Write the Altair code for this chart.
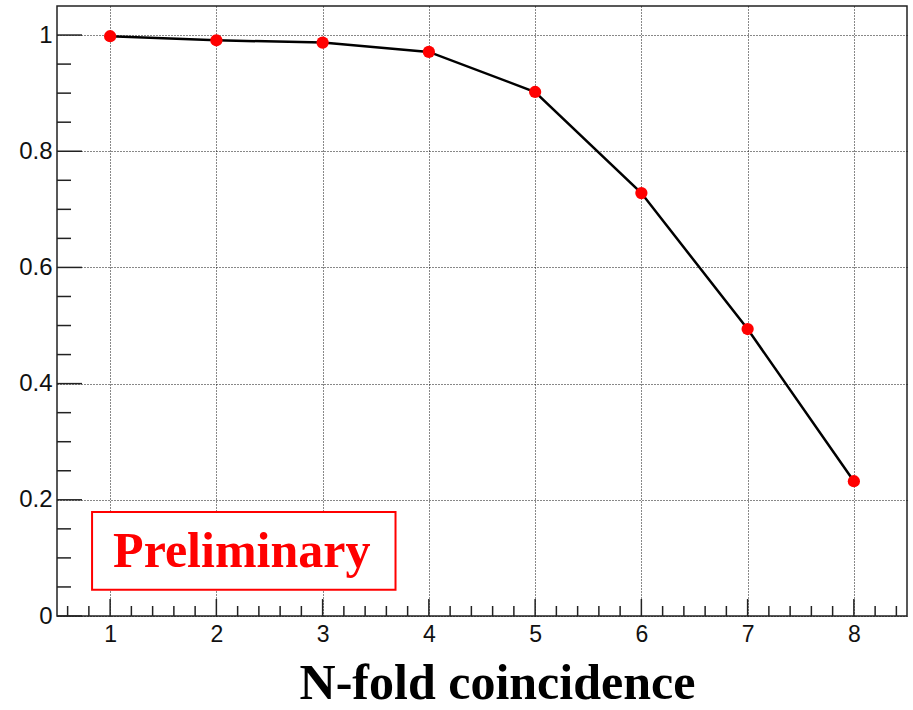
import altair as alt
import pandas as pd
import numpy as np

# data
n_fold = [1, 2, 3, 4, 5, 6, 7, 8]
efficiency = [0.998, 0.991, 0.987, 0.971, 0.902, 0.728, 0.494, 0.232]

x_major = [1, 2, 3, 4, 5, 6, 7, 8]
x_minor = [round(v, 1) for v in np.arange(0.6, 8.45, 0.2) if abs(v - round(v)) > 1e-6]
y_major = [0, 0.2, 0.4, 0.6, 0.8, 1.0]
y_minor = [round(v, 2) for v in np.arange(0.05, 1.01, 0.05) if abs(v / 0.2 - round(v / 0.2)) > 1e-6]

label_text = ["Preliminary"]
label_box_x = [0.83, 3.686]
label_box_y = [0.045, 0.179]
label_pos = [2.239, 0.084]

title_text = "N-fold coincidence"

df = pd.DataFrame({"x": n_fold, "y": efficiency})

xs = alt.Scale(domain=[0.5, 8.5], nice=False, zero=False)
ys = alt.Scale(domain=[0, 1.05], nice=False, zero=True)

x_axis = alt.Axis(
    values=x_major, format="d", grid=True, gridDash=[1, 2], gridColor="#111", gridWidth=1,
    ticks=False, domain=False, labelFont="Liberation Sans", labelFontSize=23,
    labelColor="#111", labelPadding=7,
    title=title_text, titleFont="Liberation Serif", titleFontWeight="bold",
    titleFontSize=50, titleColor="#000", titleX=440, titleY=82,
    titleAlign="center", titleBaseline="alphabetic",
)
y_axis = alt.Axis(
    values=y_major, grid=True, gridDash=[1, 2], gridColor="#111", gridWidth=1,
    ticks=False, domain=False, labelFont="Liberation Sans", labelFontSize=24,
    labelColor="#111", labelPadding=5, title=None,
    labelExpr="datum.value == 0 ? '0' : datum.value == 1 ? '1' : format(datum.value, '.1f')",
)

line = alt.Chart(df).mark_line(color="black", strokeWidth=2.5).encode(
    x=alt.X("x:Q", scale=xs, axis=x_axis),
    y=alt.Y("y:Q", scale=ys, axis=y_axis),
)
points = alt.Chart(df).mark_circle(color="#ff0000", size=150, opacity=1).encode(
    x=alt.X("x:Q", scale=xs),
    y=alt.Y("y:Q", scale=ys),
)

xmaj = alt.Chart(pd.DataFrame({"x": x_major})).mark_rule(color="#222", strokeWidth=1.5).encode(
    x=alt.X("x:Q", scale=xs), y=alt.value(610), y2=alt.value(593)
)
xmin = alt.Chart(pd.DataFrame({"x": x_minor})).mark_rule(color="#222", strokeWidth=1.5).encode(
    x=alt.X("x:Q", scale=xs), y=alt.value(610), y2=alt.value(600)
)
ymaj = alt.Chart(pd.DataFrame({"y": y_major})).mark_rule(color="#222", strokeWidth=1.5).encode(
    y=alt.Y("y:Q", scale=ys), x=alt.value(0), x2=alt.value(25)
)
ymin = alt.Chart(pd.DataFrame({"y": y_minor})).mark_rule(color="#222", strokeWidth=1.5).encode(
    y=alt.Y("y:Q", scale=ys), x=alt.value(0), x2=alt.value(14)
)

box_df = pd.DataFrame({"x": [label_box_x[0]], "x2": [label_box_x[1]],
                       "y": [label_box_y[0]], "y2": [label_box_y[1]]})
box = alt.Chart(box_df).mark_rect(fill="white", stroke="#ff0000", strokeWidth=2).encode(
    x=alt.X("x:Q", scale=xs), x2="x2:Q", y=alt.Y("y:Q", scale=ys), y2="y2:Q"
)
txt_df = pd.DataFrame({"x": [label_pos[0]], "y": [label_pos[1]], "t": label_text})
txt = alt.Chart(txt_df).mark_text(
    font="Liberation Serif", fontWeight="bold", fontSize=50, color="#ff0000",
    align="center", baseline="alphabetic",
).encode(x=alt.X("x:Q", scale=xs), y=alt.Y("y:Q", scale=ys), text="t:N")

chart = alt.layer(line, points, xmaj, xmin, ymaj, ymin, box, txt).properties(
    width=850, height=610,
    padding={"left": 57, "top": 6, "right": 6, "bottom": 94},
    autosize="none",
    background="white",
).configure_view(stroke="#222", strokeWidth=1.5)

chart.save("out.html", embed_options={"renderer": "svg", "actions": False})
